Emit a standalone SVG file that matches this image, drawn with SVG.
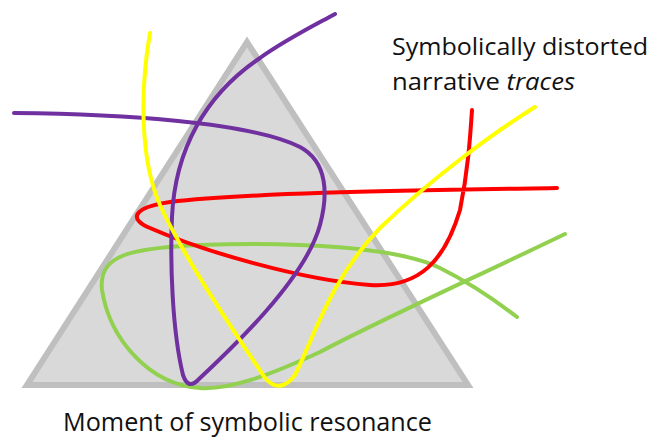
<svg xmlns="http://www.w3.org/2000/svg" width="651" height="439" viewBox="0 0 651 439">
  <style>
    .trace { fill: none; stroke-width: 4; stroke-linecap: round; stroke-linejoin: round; }
    .label { font-family: "Open Sans", "Liberation Sans", sans-serif; fill: #111; }
  </style>
  <rect width="651" height="439" fill="#ffffff"/>

  <!-- base triangle -->
  <g id="triangle">
    <polygon points="247,42 27,385 468,385" fill="#d9d9d9" stroke="#bfbfbf" stroke-width="6" stroke-linejoin="miter"/>
  </g>

  <!-- narrative traces -->
  <g id="traces">
    <path id="trace-green" class="trace" stroke="#92d050"
          d="M565,234 C480,275 380,320 320,352 C270,375 230,390 200,388 C150,385 110,340 102,290 C98,255 130,248 200,245 C300,241 400,248 440,268 C470,283 495,300 517,317"/>
    <path id="trace-red" class="trace" stroke="#ff0000"
          d="M557,188 C450,190 250,192 170,202 C130,208 130,220 150,228 C200,250 300,280 370,285 C420,288 445,260 460,210 C468,170 470,140 472,110"/>
    <path id="trace-purple" class="trace" stroke="#7030a0"
          d="M14,113 C120,114 250,122 300,147 C328,162 328,195 320,225 C305,280 230,350 198,380 Q188,390 183,375 C172,330 170,260 172,217 C175,150 205,95 260,58 C285,40 315,25 335,14"/>
    <path id="trace-yellow" class="trace" stroke="#ffff00"
          d="M150,33 C140,90 140,160 160,205 C185,260 240,340 265,378 Q280,395 295,375 C315,335 330,280 380,228 C430,180 490,135 535,107"/>
  </g>

  <!-- captions -->
  <g id="caption-traces">
    <text class="label" x="392" y="55" font-size="24" textLength="256" lengthAdjust="spacingAndGlyphs">Symbolically distorted</text>
    <text class="label" x="392" y="90" font-size="24" textLength="183" lengthAdjust="spacingAndGlyphs">narrative <tspan font-style="italic">traces</tspan></text>
  </g>
  <g id="caption-resonance">
    <text class="label" x="63" y="431" font-size="25" textLength="369" lengthAdjust="spacingAndGlyphs">Moment of symbolic resonance</text>
  </g>
</svg>
